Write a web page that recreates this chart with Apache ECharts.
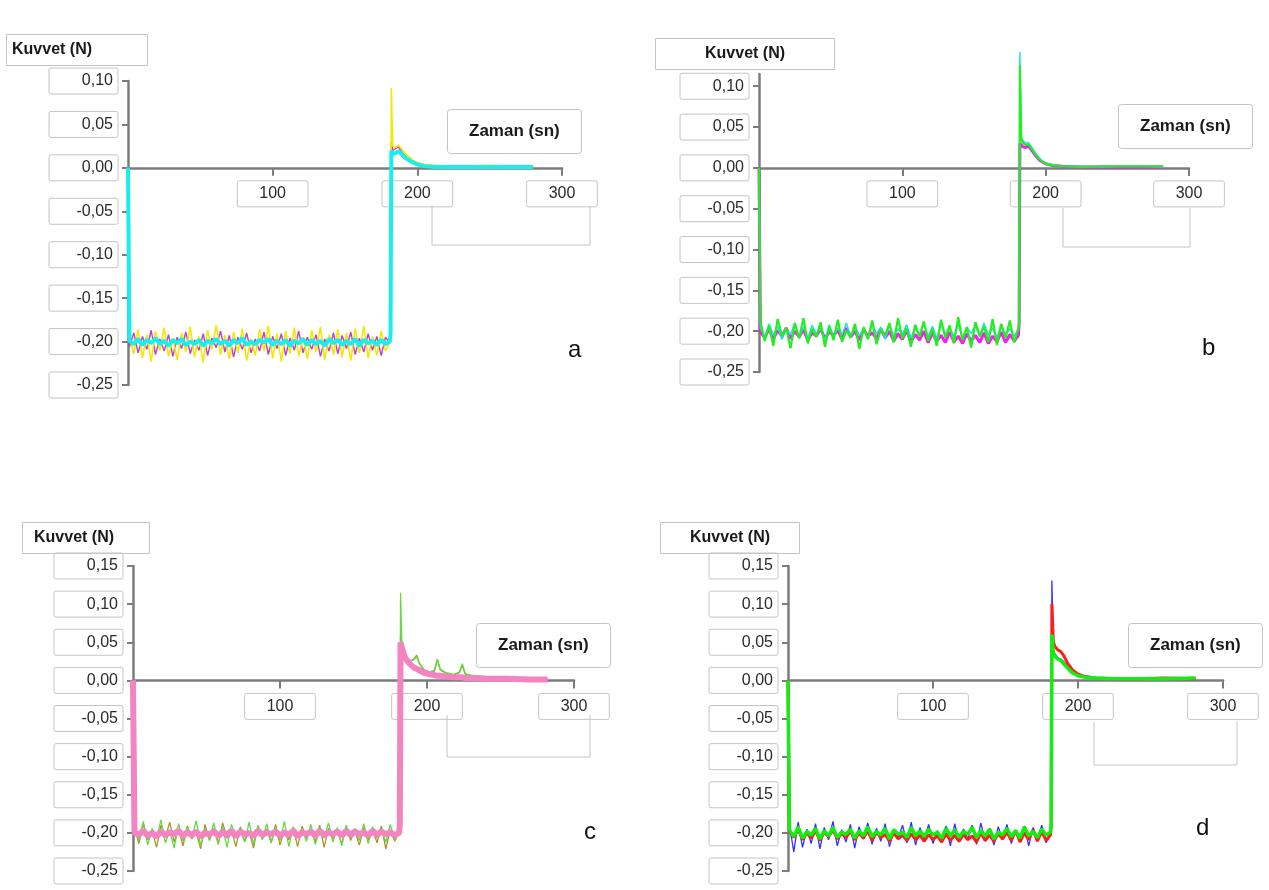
<!DOCTYPE html>
<html>
<head>
<meta charset="utf-8">
<script src="https://cdn.jsdelivr.net/npm/echarts@6/dist/echarts.min.js"></script>
<style>
  html, body { margin: 0; padding: 0; background: #fff; }
  #main { width: 1269px; height: 890px; }
</style>
</head>
<body>
<div id="main"></div>
<script>
// sampling times (s) of the plateau part, shared by every trace
const noiseT = [
  1, 4, 7, 10, 13, 16, 19, 22, 25, 28,
  31, 34, 37, 40, 43, 46, 49, 52, 55, 58,
  61, 64, 67, 70, 73, 76, 79, 82, 85, 88,
  91, 94, 97, 100, 103, 106, 109, 112, 115, 118,
  121, 124, 127, 130, 133, 136, 139, 142, 145, 148,
  151, 154, 157, 160, 163, 166, 169, 172, 175, 178,
  181
];

const xTicks = [0, 100, 200, 300];
const yTicksAB = [-0.25, -0.20, -0.15, -0.10, -0.05, 0, 0.05, 0.10];
const yTicksCD = [-0.25, -0.20, -0.15, -0.10, -0.05, 0, 0.05, 0.10, 0.15];

// ---- panel a ----
const aTailT = [181.5, 182, 183, 185, 187, 189, 192, 196, 200, 205, 212, 220, 235, 250, 265, 280];
const aYellowNoise = [
  -0.195, -0.214, -0.186, -0.219, -0.192, -0.223, -0.188, -0.210, -0.184, -0.217,
  -0.196, -0.221, -0.190, -0.212, -0.183, -0.218, -0.194, -0.224, -0.187, -0.209,
  -0.181, -0.215, -0.193, -0.220, -0.189, -0.213, -0.185, -0.222, -0.197, -0.216,
  -0.186, -0.211, -0.182, -0.219, -0.191, -0.223, -0.188, -0.214, -0.184, -0.217,
  -0.195, -0.220, -0.187, -0.212, -0.183, -0.221, -0.192, -0.215, -0.186, -0.218,
  -0.190, -0.222, -0.185, -0.213, -0.182, -0.219, -0.194, -0.216, -0.188, -0.211,
  -0.200
];
const aYellowTail = [-0.19, 0.092, 0.025, 0.024, 0.026, 0.022, 0.016, 0.010, 0.006, 0.004, 0.003, 0.002, 0.002, 0.003, 0.002, 0.002];
const aMagentaNoise = [
  -0.206, -0.190, -0.213, -0.194, -0.209, -0.187, -0.215, -0.197, -0.211, -0.192,
  -0.217, -0.195, -0.208, -0.189, -0.214, -0.198, -0.210, -0.191, -0.216, -0.196,
  -0.207, -0.188, -0.212, -0.193, -0.218, -0.195, -0.209, -0.190, -0.213, -0.197,
  -0.211, -0.189, -0.215, -0.194, -0.208, -0.191, -0.216, -0.196, -0.210, -0.188,
  -0.213, -0.195, -0.209, -0.192, -0.217, -0.197, -0.211, -0.190, -0.214, -0.193,
  -0.208, -0.189, -0.215, -0.196, -0.212, -0.191, -0.210, -0.194, -0.216, -0.195,
  -0.202
];
const aMagentaTail = [-0.19, 0.030, 0.020, 0.022, 0.024, 0.019, 0.013, 0.008, 0.005, 0.003, 0.002, 0.002, 0.001, 0.002, 0.002, 0.001];
const aCyanNoise = [
  -0.199, -0.203, -0.197, -0.204, -0.198, -0.202, -0.196, -0.203, -0.199, -0.205,
  -0.198, -0.202, -0.197, -0.204, -0.200, -0.203, -0.198, -0.205, -0.199, -0.202,
  -0.197, -0.203, -0.199, -0.205, -0.198, -0.202, -0.196, -0.204, -0.200, -0.203,
  -0.198, -0.201, -0.197, -0.204, -0.199, -0.203, -0.198, -0.205, -0.199, -0.202,
  -0.197, -0.204, -0.198, -0.203, -0.199, -0.205, -0.197, -0.202, -0.198, -0.204,
  -0.199, -0.203, -0.197, -0.205, -0.198, -0.202, -0.199, -0.204, -0.198, -0.203,
  -0.200
];
const aCyanTail = [-0.19, 0.020, 0.016, 0.017, 0.019, 0.016, 0.011, 0.007, 0.004, 0.002, 0.001, 0.001, 0.001, 0.001, 0.001, 0.001];

// ---- panel b ----
const bTailT = [181.5, 182, 183, 184, 186, 188, 190, 193, 196, 200, 205, 212, 225, 240, 260, 282];
const bMagentaNoise = [
  -0.201, -0.208, -0.197, -0.210, -0.199, -0.206, -0.196, -0.209, -0.200, -0.207,
  -0.198, -0.211, -0.202, -0.206, -0.197, -0.209, -0.201, -0.205, -0.199, -0.210,
  -0.196, -0.207, -0.200, -0.211, -0.198, -0.206, -0.202, -0.209, -0.197, -0.208,
  -0.200, -0.212, -0.203, -0.210, -0.199, -0.213, -0.204, -0.211, -0.200, -0.214,
  -0.202, -0.212, -0.205, -0.214, -0.201, -0.213, -0.206, -0.215, -0.203, -0.212,
  -0.205, -0.214, -0.202, -0.215, -0.206, -0.213, -0.201, -0.214, -0.204, -0.212,
  -0.205
];
const bMagentaTail = [-0.19, 0.030, 0.028, 0.026, 0.025, 0.027, 0.022, 0.015, 0.009, 0.005, 0.003, 0.002, 0.001, 0.001, 0.001, 0.001];
const bCyanNoise = [
  -0.196, -0.208, -0.191, -0.205, -0.194, -0.210, -0.198, -0.204, -0.190, -0.207,
  -0.195, -0.209, -0.193, -0.203, -0.197, -0.211, -0.192, -0.206, -0.196, -0.204,
  -0.190, -0.208, -0.194, -0.205, -0.198, -0.209, -0.191, -0.203, -0.195, -0.210,
  -0.193, -0.206, -0.197, -0.204, -0.192, -0.208, -0.196, -0.205, -0.190, -0.207,
  -0.194, -0.209, -0.192, -0.204, -0.197, -0.206, -0.191, -0.210, -0.195, -0.203,
  -0.193, -0.207, -0.190, -0.205, -0.196, -0.208, -0.192, -0.204, -0.197, -0.206,
  -0.198
];
const bCyanTail = [-0.19, 0.142, 0.038, 0.034, 0.030, 0.031, 0.026, 0.018, 0.011, 0.006, 0.004, 0.002, 0.002, 0.001, 0.002, 0.001];
const bGreenNoise = [
  -0.188, -0.212, -0.193, -0.218, -0.185, -0.206, -0.196, -0.221, -0.190, -0.209,
  -0.184, -0.215, -0.197, -0.207, -0.189, -0.219, -0.194, -0.211, -0.186, -0.213,
  -0.199, -0.208, -0.191, -0.222, -0.195, -0.210, -0.187, -0.216, -0.198, -0.205,
  -0.190, -0.214, -0.184, -0.209, -0.196, -0.219, -0.192, -0.207, -0.188, -0.212,
  -0.197, -0.218, -0.186, -0.208, -0.193, -0.215, -0.183, -0.211, -0.195, -0.220,
  -0.189, -0.206, -0.194, -0.213, -0.185, -0.217, -0.191, -0.209, -0.187, -0.214,
  -0.196
];
const bGreenTail = [-0.19, 0.125, 0.035, 0.031, 0.028, 0.029, 0.024, 0.016, 0.010, 0.005, 0.003, 0.002, 0.001, 0.002, 0.002, 0.002];

// ---- panel c ----
const cTailT = [181.5, 182, 183, 185, 188, 191, 193, 195, 198, 202, 205, 207, 209, 213, 218, 222, 224, 226, 230, 240, 255, 270, 282];
const cOliveNoise = [
  -0.193, -0.214, -0.188, -0.209, -0.197, -0.219, -0.190, -0.206, -0.186, -0.212,
  -0.195, -0.217, -0.191, -0.208, -0.199, -0.221, -0.189, -0.210, -0.194, -0.215,
  -0.187, -0.207, -0.196, -0.218, -0.192, -0.211, -0.198, -0.220, -0.190, -0.208,
  -0.195, -0.213, -0.189, -0.216, -0.197, -0.209, -0.193, -0.218, -0.191, -0.207,
  -0.196, -0.212, -0.190, -0.219, -0.194, -0.208, -0.198, -0.214, -0.192, -0.210,
  -0.197, -0.216, -0.193, -0.209, -0.195, -0.213, -0.191, -0.221, -0.196, -0.211,
  -0.199
];
const cOliveTail = [-0.19, 0.060, 0.035, 0.030, 0.024, 0.028, 0.033, 0.022, 0.014, 0.010, 0.012, 0.027, 0.014, 0.009, 0.007, 0.010, 0.020, 0.008, 0.006, 0.004, 0.003, 0.002, 0.001];
const cGreenNoise = [
  -0.190, -0.210, -0.185, -0.216, -0.194, -0.208, -0.183, -0.213, -0.197, -0.220,
  -0.188, -0.211, -0.192, -0.207, -0.184, -0.217, -0.195, -0.209, -0.187, -0.214,
  -0.193, -0.219, -0.189, -0.206, -0.196, -0.212, -0.186, -0.215, -0.191, -0.209,
  -0.188, -0.213, -0.194, -0.210, -0.185, -0.218, -0.192, -0.206, -0.196, -0.211,
  -0.189, -0.215, -0.195, -0.207, -0.187, -0.212, -0.193, -0.217, -0.190, -0.208,
  -0.194, -0.210, -0.188, -0.214, -0.192, -0.207, -0.197, -0.212, -0.189, -0.209,
  -0.198
];
const cGreenTail = [-0.19, 0.115, 0.040, 0.032, 0.026, 0.027, 0.031, 0.021, 0.013, 0.011, 0.013, 0.028, 0.015, 0.010, 0.008, 0.011, 0.022, 0.009, 0.007, 0.005, 0.004, 0.003, 0.002];
const cPinkNoise = [
  -0.199, -0.203, -0.197, -0.204, -0.200, -0.205, -0.198, -0.203, -0.199, -0.202,
  -0.197, -0.204, -0.199, -0.203, -0.198, -0.205, -0.200, -0.202, -0.198, -0.204,
  -0.199, -0.203, -0.197, -0.205, -0.198, -0.202, -0.200, -0.204, -0.197, -0.203,
  -0.199, -0.202, -0.198, -0.204, -0.199, -0.203, -0.197, -0.205, -0.199, -0.202,
  -0.198, -0.204, -0.197, -0.203, -0.199, -0.202, -0.198, -0.204, -0.197, -0.203,
  -0.198, -0.202, -0.199, -0.204, -0.197, -0.203, -0.198, -0.202, -0.199, -0.203,
  -0.200
];
const cPinkTail = [-0.19, 0.050, 0.042, 0.030, 0.022, 0.017, 0.015, 0.013, 0.010, 0.008, 0.007, 0.006, 0.006, 0.005, 0.004, 0.004, 0.004, 0.003, 0.003, 0.002, 0.002, 0.001, 0.001];

// ---- panel d ----
const dTailT = [181.5, 182, 183, 184, 186, 188, 190, 193, 196, 200, 205, 212, 225, 240, 260, 281];
const dBlueNoise = [
  -0.190, -0.225, -0.186, -0.219, -0.195, -0.214, -0.188, -0.221, -0.193, -0.209,
  -0.185, -0.217, -0.196, -0.212, -0.189, -0.220, -0.192, -0.208, -0.187, -0.215,
  -0.194, -0.211, -0.188, -0.218, -0.196, -0.207, -0.190, -0.213, -0.186, -0.216,
  -0.193, -0.209, -0.189, -0.214, -0.197, -0.210, -0.191, -0.217, -0.188, -0.212,
  -0.195, -0.208, -0.190, -0.215, -0.187, -0.211, -0.194, -0.216, -0.192, -0.209,
  -0.189, -0.214, -0.196, -0.210, -0.191, -0.217, -0.193, -0.208, -0.190, -0.213,
  -0.198
];
const dBlueTail = [-0.19, 0.131, 0.040, 0.035, 0.030, 0.028, 0.025, 0.018, 0.011, 0.006, 0.004, 0.003, 0.002, 0.002, 0.003, 0.002];
const dRedNoise = [
  -0.198, -0.206, -0.195, -0.209, -0.200, -0.207, -0.197, -0.210, -0.199, -0.205,
  -0.196, -0.208, -0.201, -0.206, -0.198, -0.209, -0.200, -0.207, -0.197, -0.210,
  -0.199, -0.206, -0.202, -0.211, -0.200, -0.208, -0.203, -0.210, -0.201, -0.209,
  -0.203, -0.211, -0.202, -0.209, -0.204, -0.212, -0.201, -0.210, -0.203, -0.211,
  -0.202, -0.209, -0.204, -0.212, -0.200, -0.210, -0.203, -0.211, -0.201, -0.208,
  -0.199, -0.210, -0.197, -0.212, -0.200, -0.209, -0.196, -0.211, -0.198, -0.210,
  -0.203
];
const dRedTail = [-0.19, 0.100, 0.050, 0.045, 0.040, 0.038, 0.033, 0.022, 0.014, 0.008, 0.005, 0.003, 0.002, 0.002, 0.003, 0.002];
const dGreenNoise = [
  -0.196, -0.205, -0.192, -0.207, -0.198, -0.203, -0.194, -0.208, -0.197, -0.204,
  -0.193, -0.206, -0.199, -0.202, -0.195, -0.207, -0.197, -0.204, -0.192, -0.205,
  -0.198, -0.203, -0.194, -0.208, -0.196, -0.202, -0.199, -0.206, -0.193, -0.204,
  -0.197, -0.205, -0.195, -0.203, -0.199, -0.207, -0.194, -0.204, -0.196, -0.206,
  -0.198, -0.202, -0.193, -0.206, -0.197, -0.204, -0.195, -0.208, -0.199, -0.203,
  -0.194, -0.205, -0.197, -0.207, -0.192, -0.204, -0.198, -0.206, -0.195, -0.203,
  -0.199
];
const dGreenTail = [-0.19, 0.060, 0.035, 0.032, 0.028, 0.026, 0.022, 0.016, 0.010, 0.006, 0.004, 0.003, 0.002, 0.002, 0.002, 0.003];

// start at 0 N, plateau, release spike and decay
function makeTrace(noise, tailT, tail) {
  let pts = [[0, 0]];
  for (let i = 0; i < noiseT.length; i++) pts.push([noiseT[i], noise[i]]);
  for (let i = 0; i < tailT.length; i++) pts.push([tailT[i], tail[i]]);
  return pts;
}

const FONT = 'Liberation Sans';
const fmt = v => v.toFixed(2).replace('.', ',');

const panels = [
  { grid: { left: 128, top: 81, width: 434, height: 304 }, yMin: -0.25, yMax: 0.10, yTicks: yTicksAB,
    traces: [
      { d: makeTrace(aMagentaNoise, aTailT, aMagentaTail), c: '#c23cc8', w: 1.4 },
      { d: makeTrace(aYellowNoise, aTailT, aYellowTail), c: '#f4e800', w: 1.6 },
      { d: makeTrace(aCyanNoise, aTailT, aCyanTail), c: '#18eef0', w: 4 }
    ] },
  { grid: { left: 759, top: 74, width: 430, height: 298 }, yMin: -0.25, yMax: 0.115, yTicks: yTicksAB,
    traces: [
      { d: makeTrace(bMagentaNoise, bTailT, bMagentaTail), c: '#f020f0', w: 3 },
      { d: makeTrace(bCyanNoise, bTailT, bCyanTail), c: '#20e0e8', w: 1.5 },
      { d: makeTrace(bGreenNoise, bTailT, bGreenTail), c: '#22ee22', w: 2.2 }
    ] },
  { grid: { left: 133, top: 566, width: 441, height: 305 }, yMin: -0.25, yMax: 0.15, yTicks: yTicksCD,
    traces: [
      { d: makeTrace(cOliveNoise, cTailT, cOliveTail), c: '#a89628', w: 1.3 },
      { d: makeTrace(cGreenNoise, cTailT, cGreenTail), c: '#66d846', w: 1.3 },
      { d: makeTrace(cPinkNoise, cTailT, cPinkTail), c: '#f384c0', w: 6 }
    ] },
  { grid: { left: 788, top: 566, width: 435, height: 305 }, yMin: -0.25, yMax: 0.15, yTicks: yTicksCD,
    traces: [
      { d: makeTrace(dBlueNoise, dTailT, dBlueTail), c: '#3030ff', w: 1.3 },
      { d: makeTrace(dRedNoise, dTailT, dRedTail), c: '#ff1c1c', w: 3 },
      { d: makeTrace(dGreenNoise, dTailT, dGreenTail), c: '#12ee12', w: 3.5 }
    ] }
];

const boxLine = '#c4c4c4';
const axisGrey = '#7c7c7c';

let grids = [], xAxes = [], yAxes = [], series = [];
panels.forEach((p, i) => {
  grids.push(Object.assign({ outerBoundsMode: 'none' }, p.grid));
  // move the time axis up from the grid bottom to the 0 N line
  const zeroShift = -p.grid.height * (0 - p.yMin) / (p.yMax - p.yMin);
  xAxes.push({
    type: 'value', gridIndex: i, min: 0, max: 300, interval: 100,
    position: 'bottom', offset: zeroShift,
    splitLine: { show: false },
    axisLine: { onZero: false, lineStyle: { color: axisGrey, width: 2.5 } },
    axisTick: { show: true, length: 8, customValues: xTicks, lineStyle: { color: axisGrey, width: 2 } },
    axisLabel: {
      customValues: xTicks.slice(1), margin: 13, fontFamily: FONT, fontSize: 16, color: '#2a2a2a',
      borderColor: boxLine, borderWidth: 1, borderRadius: 2, padding: [5, 22, 5, 22]
    }
  });
  yAxes.push({
    type: 'value', gridIndex: i, min: p.yMin, max: p.yMax,
    splitLine: { show: false },
    axisLine: { show: true, onZero: false, lineStyle: { color: axisGrey, width: 2.5 } },
    axisTick: { show: true, length: 6, customValues: p.yTicks, lineStyle: { color: axisGrey, width: 2 } },
    axisLabel: {
      customValues: p.yTicks, formatter: fmt, margin: 10,
      fontFamily: FONT, fontSize: 16, color: '#2a2a2a',
      width: 52, align: 'right',
      borderColor: boxLine, borderWidth: 1, borderRadius: 2, padding: [5, 5, 5, 12]
    }
  });
  p.traces.forEach(t => {
    series.push({
      type: 'line', xAxisIndex: i, yAxisIndex: i, data: t.d,
      showSymbol: false, symbol: 'none', clip: false, animation: false,
      lineStyle: { color: t.c, width: t.w }, itemStyle: { color: t.c }
    });
  });
});

const kuvvetBox = { text: 'Kuvvet (N)', borderColor: boxLine, borderWidth: 1,
  textStyle: { fontFamily: FONT, fontSize: 16, fontWeight: 'bold', color: '#1a1a1a' } };
const zamanBox = { text: 'Zaman (sn)', borderColor: boxLine, borderWidth: 1, borderRadius: 3, padding: [14, 22],
  textStyle: { fontFamily: FONT, fontSize: 17, fontWeight: 'bold', color: '#1a1a1a' } };
const letterStyle = { fontFamily: FONT, fontSize: 24, fontWeight: 'normal', color: '#111' };

const option = {
  backgroundColor: '#fff',
  animation: false,
  title: [
    Object.assign({ left: 6, top: 34, padding: [8, 56, 8, 6] }, kuvvetBox),
    Object.assign({ left: 655, top: 38, padding: [8, 50, 8, 50] }, kuvvetBox),
    Object.assign({ left: 22, top: 522, padding: [8, 36, 8, 12] }, kuvvetBox),
    Object.assign({ left: 660, top: 522, padding: [8, 30, 8, 30] }, kuvvetBox),
    Object.assign({ left: 447, top: 109 }, zamanBox),
    Object.assign({ left: 1118, top: 104 }, zamanBox),
    Object.assign({ left: 476, top: 623 }, zamanBox),
    Object.assign({ left: 1128, top: 623 }, zamanBox),
    { text: 'a', left: 568, top: 338, padding: 0, textStyle: letterStyle },
    { text: 'b', left: 1202, top: 336, padding: 0, textStyle: letterStyle },
    { text: 'c', left: 584, top: 820, padding: 0, textStyle: letterStyle },
    { text: 'd', left: 1196, top: 816, padding: 0, textStyle: letterStyle }
  ],
  graphic: [
    { type: 'polyline', shape: { points: [[432, 206], [432, 245], [590, 245], [590, 206]] }, style: { stroke: boxLine, fill: null, lineWidth: 1 } },
    { type: 'polyline', shape: { points: [[1063, 208], [1063, 247], [1190, 247], [1190, 208]] }, style: { stroke: boxLine, fill: null, lineWidth: 1 } },
    { type: 'polyline', shape: { points: [[447, 715], [447, 757], [590, 757], [590, 715]] }, style: { stroke: boxLine, fill: null, lineWidth: 1 } },
    { type: 'polyline', shape: { points: [[1094, 722], [1094, 765], [1237, 765], [1237, 722]] }, style: { stroke: boxLine, fill: null, lineWidth: 1 } }
  ],
  grid: grids,
  xAxis: xAxes,
  yAxis: yAxes,
  series: series
};

const chart = echarts.init(document.getElementById('main'), null, { renderer: 'canvas' });
chart.setOption(option);
</script>
</body>
</html>
